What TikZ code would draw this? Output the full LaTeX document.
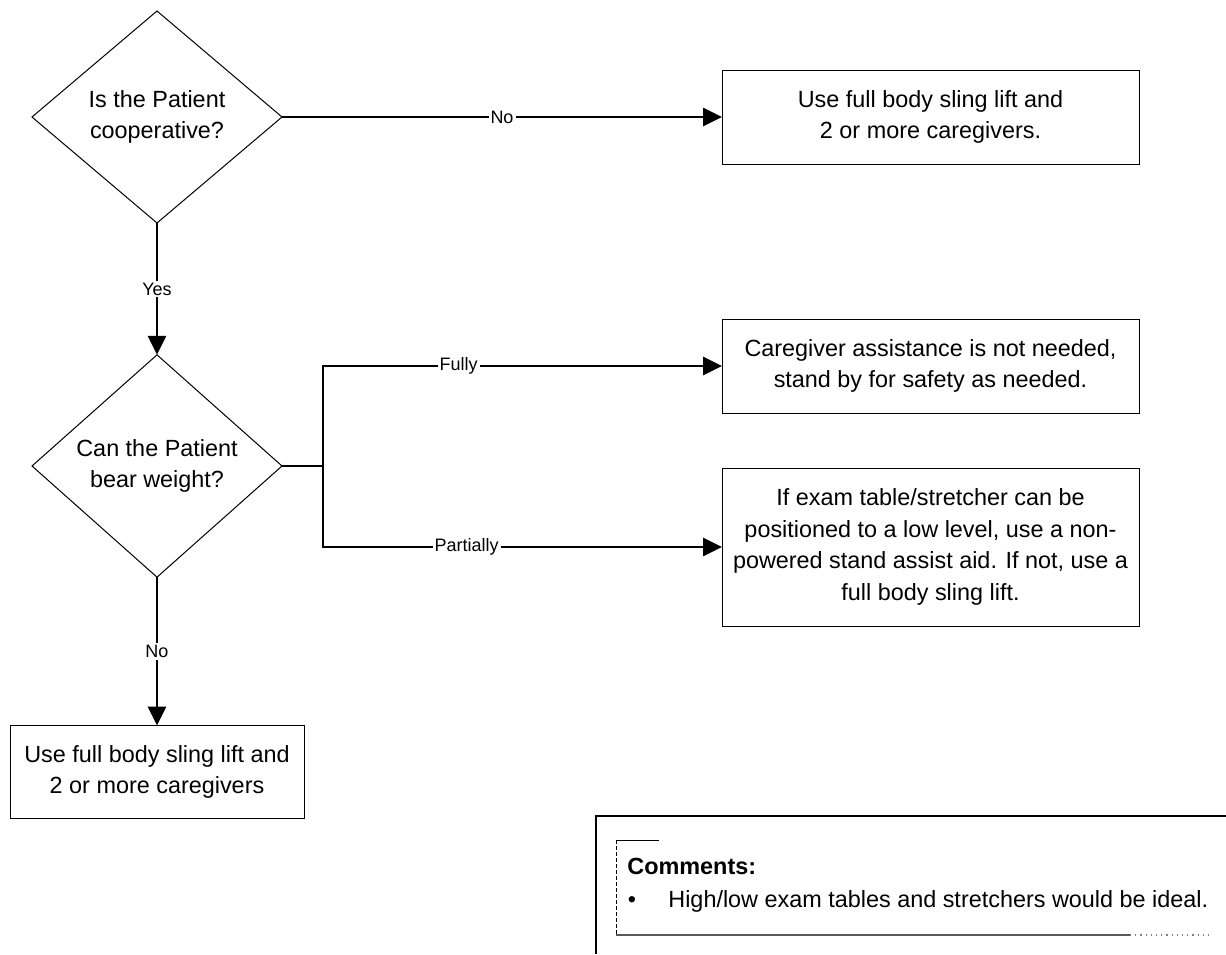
\documentclass[tikz,border=0pt]{standalone}
\usepackage{fontspec}
\setmainfont{Liberation Sans}
\usetikzlibrary{arrows.meta}
\usetikzlibrary{shapes.geometric}

\begin{document}
\begin{tikzpicture}[x=0.5pt, y=-0.5pt]
                    \tikzstyle{decision} = [draw, diamond, line width=0.5pt, minimum width=125pt, minimum height=106pt, inner sep=1pt, outer sep=0pt, align=center, font=\fontsize{11.7}{15.6}\selectfont]
                    \tikzstyle{action} = [draw, rectangle, line width=0.5pt, inner sep=2pt, outer sep=0pt, align=center, font=\fontsize{11.7}{15.8}\selectfont]
                    \tikzstyle{flow} = [line width=1.4pt, -{Triangle[length=9.5pt, width=9pt]}]
                    \tikzstyle{answer} = [fill=white, inner sep=1pt, font=\fontsize{9}{10}\selectfont]
                    \useasboundingbox (0, 0) rectangle (1226, 954);
                    \node[decision] (cooperative) at (157, 117) {Is the Patient\\cooperative?};
                    \node[decision] (weight) at (157, 466) {Can the Patient\\bear weight?};
                    \node[action, minimum width=208.5pt, minimum height=47pt] (slingtop) at (930.5, 117) {Use full body sling lift and\\2 or more caregivers.};
                    \node[action, minimum width=208.5pt, minimum height=47pt] (standby) at (930.5, 366) {Caregiver assistance is not needed,\\stand by for safety as needed.};
                    \node[action, minimum width=208.5pt, minimum height=79pt] (assist) at (930.5, 547) {If exam table/stretcher can be\\positioned to a low level, use a non-\\powered stand assist aid. If not, use a\\full body sling lift.};
                    \node[action, minimum width=147pt, minimum height=46.5pt] (slingbottom) at (157, 772) {Use full body sling lift and\\2 or more caregivers};
                    \coordinate (split) at (323, 466);
                    \draw[flow] (cooperative.east) -- node[answer] {No} (slingtop.west);
                    \draw[flow] (cooperative.south) -- node[answer] {Yes} (weight.north);
                    \draw[flow] (weight.east) -- (split) |- node[answer, pos=0.67] {Fully} (standby.west);
                    \draw[flow] (split) |- node[answer, pos=0.68] {Partially} (assist.west);
                    \draw[flow] (weight.south) -- node[answer] {No} (slingbottom.north);
                    \draw[line width=0.7pt] (596, 954) -- (596, 816) -- (1226, 816);
                    \draw[line width=0.4pt, dashed, dash pattern=on 2pt off 1pt] (616, 840) -- (616, 935);
                    \draw[line width=0.4pt] (616, 840) -- (659, 840);
                    \draw[line width=0.7pt, gray!70!black] (616, 935) -- (1130, 935);
                    \draw[line width=0.6pt, gray, dotted] (1130, 935) -- (1211, 935);
                    \node[anchor=base west, inner sep=0pt, font=\fontsize{11.7}{14}\selectfont\bfseries] (commenthead) at (627, 874) {Comments:};
                    \node[anchor=base, inner sep=0pt, font=\fontsize{11.7}{14}\selectfont] (bullet) at (632, 907) {\textbullet};
                    \node[anchor=base west, inner sep=0pt, font=\fontsize{11.7}{14}\selectfont] (commenttext) at (668, 907) {High/low exam tables and stretchers would be ideal.};
                \end{tikzpicture}
\end{document}
